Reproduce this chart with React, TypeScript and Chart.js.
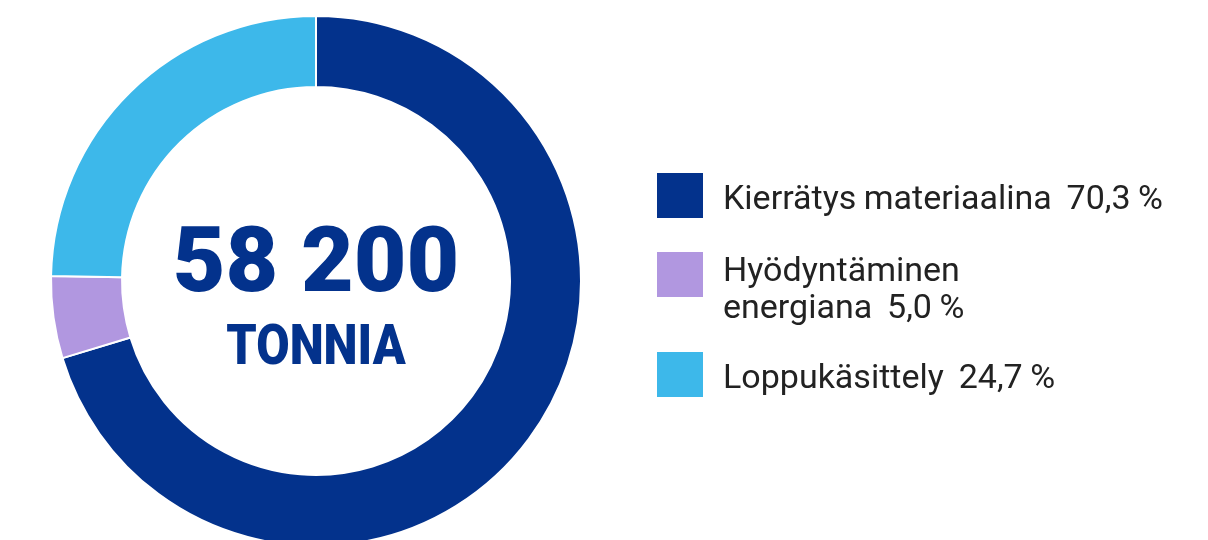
import React, { useEffect, useRef } from "react";
import { Chart, registerables } from "chart.js";

Chart.register(...registerables);

const categories = ["Kierrätys materiaalina", "Hyödyntäminen energiana", "Loppukäsittely"];
const legendLines = [["Kierrätys materiaalina"], ["Hyödyntäminen", "energiana"], ["Loppukäsittely"]];
const values = [70.3, 5.0, 24.7];
const valueLabels = ["70,3 %", "5,0 %", "24,7 %"];
const colors = ["#03328C", "#B197E0", "#3DB8EA"];
const totalLabel = "58 200";
const unitLabel = "TONNIA";

export default function App() {
  const ref = useRef<HTMLCanvasElement | null>(null);

  useEffect(() => {
    if (!ref.current) return;
    const chart = new Chart(ref.current, {
      type: "doughnut",
      data: {
        labels: categories,
        datasets: [
          {
            data: values,
            backgroundColor: colors,
            borderColor: "#ffffff",
            borderWidth: 2,
            radius: 265,
            cutout: "73.2%",
          } as any,
        ],
      },
      options: {
        responsive: false,
        animation: false,
        layout: { padding: { left: 0, right: 576, top: 22, bottom: 0 } },
        plugins: {
          legend: { display: false },
          tooltip: { enabled: false },
        },
      },
    });
    return () => chart.destroy();
  }, []);

  const boxTops = [173, 252, 352];
  const textOffsets = [6, -1.5, 6];

  return (
    <div
      style={{
        position: "fixed",
        left: 0,
        top: 0,
        width: 1208,
        height: 540,
        overflow: "hidden",
        background: "#ffffff",
      }}
    >
      <canvas ref={ref} width={1208} height={540} style={{ display: "block", position: "absolute", left: 0, top: 0 }} />
      <div
        style={{
          position: "absolute",
          left: 116,
          width: 400,
          top: 208,
          textAlign: "center",
          fontFamily: "Roboto, sans-serif",
          fontWeight: 900,
          fontSize: 91,
          lineHeight: "104px",
          color: "#03328C",
        }}
      >
        {totalLabel}
      </div>
      <div
        style={{
          position: "absolute",
          left: 116,
          width: 400,
          top: 313,
          textAlign: "center",
          fontFamily: "Roboto, sans-serif",
          fontWeight: 900,
          fontSize: 55,
          lineHeight: "64px",
          color: "#03328C",
          transform: "scaleX(0.88)",
        }}
      >
        {unitLabel}
      </div>
      {categories.map((c, i) => (
        <div key={c} style={{ position: "absolute", left: 657, top: boxTops[i] }}>
          <div style={{ position: "absolute", left: 0, top: 0, width: 46, height: 45, background: colors[i] }} />
          <div
            style={{
              position: "absolute",
              left: 66,
              top: textOffsets[i],
              whiteSpace: "pre",
              fontFamily: "Roboto, sans-serif",
              fontSize: 34,
              lineHeight: "37px",
              wordSpacing: "-1px",
              color: "#222222",
            }}
          >
            {legendLines[i].map((ln, j) => (
              <div key={j}>
                {ln}
                {j === legendLines[i].length - 1 ? "  " + valueLabels[i] : ""}
              </div>
            ))}
          </div>
        </div>
      ))}
    </div>
  );
}
